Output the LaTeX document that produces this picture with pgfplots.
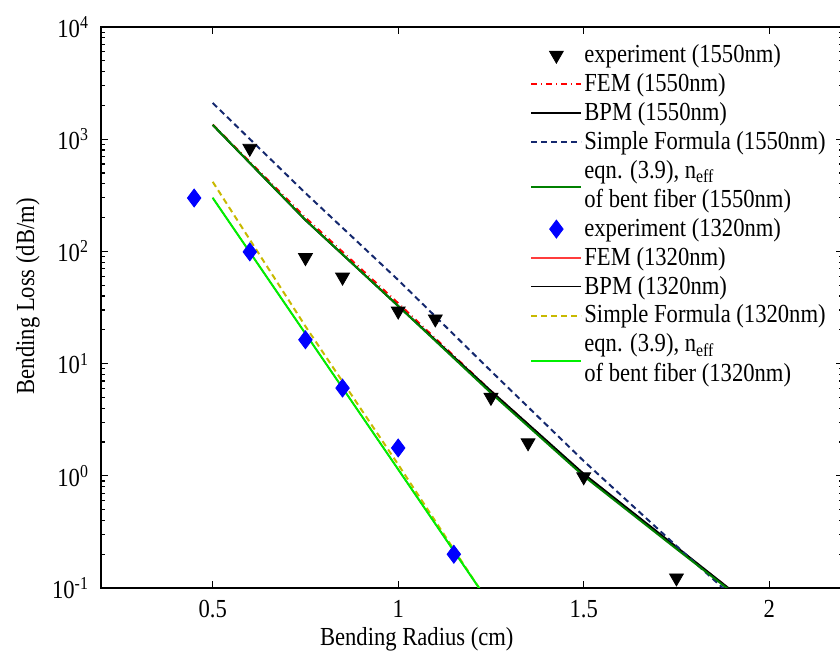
\documentclass[border=0pt]{standalone}
\usepackage{fontspec}
\setmainfont[FakeStretch=0.87]{Liberation Serif}
\usepackage{pgfplots}
\pgfplotsset{compat=1.18}
\definecolor{navyd}{RGB}{20,40,110}
\definecolor{grn}{RGB}{0,128,0}
\definecolor{ylw}{RGB}{200,185,0}
\definecolor{lgrn}{RGB}{0,240,0}
\definecolor{fred}{RGB}{255,60,60}
\pgfplotsset{shiftedlegend/.style={legend image code/.code={\draw[##1,overlay] (0pt,-8pt) -- (25pt,-8pt);}}}
\begin{document}
\fontsize{13}{15.6}\selectfont
\begin{tikzpicture}
\begin{axis}[
  at={(0,0)}, anchor=south west,
  width=371pt, height=280.5pt, scale only axis,
  xmin=0.2, xmax=2.2, ymode=log, ymin=0.1, ymax=10000,
  xtick={0.5,1,1.5,2}, xticklabels={0.5,1,1.5,2},
  ytick={0.1,1,10,100,1000,10000},
  yticklabels={10\textsuperscript{-1},10\textsuperscript{0},10\textsuperscript{1},10\textsuperscript{2},10\textsuperscript{3},10\textsuperscript{4}},
  minor ytick={0.2,0.3,0.4,0.5,0.6,0.7,0.8,0.9,2,3,4,5,6,7,8,9,20,30,40,50,60,70,80,90,200,300,400,500,600,700,800,900,2000,3000,4000,5000,6000,7000,8000,9000},
  tick align=inside, tick pos=both,
  major tick length=3.5pt, minor tick length=2pt,
  axis line style={line width=1pt},
  every tick/.style={black, line width=0.6pt},
  xticklabel style={yshift=-1.7pt},
  yticklabel style={xshift=-1.7pt},
  xlabel={Bending Radius (cm)},
  xlabel style={at={(axis description cs:0.425,-0.0695)}, anchor=north, inner sep=0pt},
  ylabel={Bending Loss (dB/m)},
  ylabel style={at={(axis description cs:-0.0827,0.52)}, anchor=south, inner sep=0pt},
  legend cell align=left,
  legend style={at={(rel axis cs:0.5776,0.97)}, anchor=north west, draw=none, fill=none,
    inner sep=0pt, row sep=3.5pt, column sep=1pt, nodes={inner sep=0pt}},
  legend image code/.code={\draw[mark repeat=2,mark phase=2,#1] plot coordinates {(0pt,0pt) (12.5pt,0pt) (25pt,0pt)};},
]
% 1550 nm
\addplot[only marks, mark=triangle*, mark size=4pt, mark options={rotate=180, fill=black, draw=black}] coordinates {
(0.6,830) (0.75,88) (0.85,59) (1.0,29.4) (1.1,25) (1.25,5.0) (1.35,1.97) (1.5,0.98) (1.75,0.123)};
\addlegendentry{experiment (1550nm)}
\addplot[red, dash dot, line width=1pt] coordinates {
(0.5,1350) (0.75,200) (1.0,34.5) (1.25,5.7) (1.5,1.03) (1.75,0.228) (2.0,0.052)};
\addlegendentry{FEM (1550nm)}
\addplot[black, line width=1pt] coordinates {
(0.5,1340) (0.75,190) (1.0,32.6) (1.25,5.7) (1.5,1.04) (1.75,0.232) (2.0,0.0515)};
\addlegendentry{BPM (1550nm)}
\addplot[navyd, dash pattern=on 3pt off 2pt, line width=1pt] coordinates {
(0.5,2103) (0.75,331) (1.0,55.6) (1.25,8.59) (1.5,1.355) (1.75,0.237) (2.0,0.0423)};
\addlegendentry{Simple Formula (1550nm)}
\addplot[grn, line width=1pt, shiftedlegend] coordinates {
(0.5,1340) (0.75,190.5) (1.0,32.6) (1.25,5.47) (1.5,0.995) (1.75,0.223) (2.0,0.0508)};
\addlegendentry{eqn. (3.9), n\textsubscript{eff}\rule[-7.8pt]{0pt}{1pt}}
\addlegendimage{empty legend}
\addlegendentry{of bent fiber (1550nm)}
% 1320 nm
\addplot[only marks, mark=diamond*, mark size=4.5pt, mark options={fill=blue, draw=blue}] coordinates {
(0.45,299) (0.6,99) (0.75,16.3) (0.85,6.05) (1.0,1.77) (1.15,0.20)};
\addlegendentry{experiment (1320nm)}
\addplot[fred, line width=0.6pt] coordinates {
(0.5,300) (0.75,18.5) (1.0,1.14) (1.25,0.070)};
\addlegendentry{FEM (1320nm)}
\addplot[black, line width=0.5pt] coordinates {
(0.5,300) (0.75,18.5) (1.0,1.14) (1.25,0.070)};
\addlegendentry{BPM (1320nm)}
\addplot[ylw, dash pattern=on 3pt off 2pt, line width=1pt] coordinates {
(0.5,417) (0.75,21.5) (1.0,1.26) (1.25,0.069)};
\addlegendentry{Simple Formula (1320nm)}
\addplot[lgrn, line width=1pt, shiftedlegend] coordinates {
(0.5,300) (0.75,18.5) (1.0,1.14) (1.25,0.070)};
\addlegendentry{eqn. (3.9), n\textsubscript{eff}\rule[-7.8pt]{0pt}{1pt}}
\addlegendimage{empty legend}
\addlegendentry{of bent fiber (1320nm)}
\end{axis}
\pgfresetboundingbox
\path[use as bounding box] (-50.7pt,-34.5pt) rectangle (369.3pt,294pt);
\end{tikzpicture}
\end{document}
